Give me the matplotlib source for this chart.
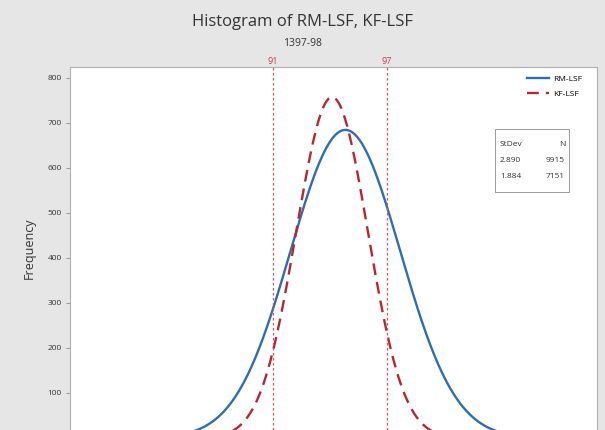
import numpy as np
import matplotlib
matplotlib.use("Agg")
import matplotlib.pyplot as plt
from matplotlib.lines import Line2D

plt.rcParams["font.family"] = ["Open Sans", "DejaVu Sans"]

series = ["RM-LSF", "KF-LSF"]
means = [94.8, 94.1]
stdevs = [2.890, 1.884]
counts = [9915, 7151]
bin_width = 0.5
ref_lines = [91, 97]
yticks = [100, 200, 300, 400, 500, 600, 700, 800]

colors = ["#2f6db3", "#b5282e"]
styles = ["-", (0, (5, 3))]

W, H = 605, 430
fig = plt.figure(figsize=(W / 100, H / 100), dpi=100)
fig.patch.set_facecolor("#e6e6e6")

left, right, top, bottom = 70, 597, 67, 430
ax = fig.add_axes([left / W, 1 - bottom / H, (right - left) / W, (bottom - top) / H])
ax.set_facecolor("white")

x = np.linspace(78, 110, 800)
for m, s, n, c, ls in zip(means, stdevs, counts, colors, styles):
    y = n * bin_width / (s * np.sqrt(2 * np.pi)) * np.exp(-0.5 * ((x - m) / s) ** 2)
    ax.plot(x, y, color=c, lw=1.7, linestyle=ls)

for r in ref_lines:
    ax.axvline(r, color="#e5505a", lw=0.9, linestyle=(0, (2, 2)))
    ax.text(r, 1.004, str(r), transform=ax.get_xaxis_transform(), ha="center",
            va="bottom", fontsize=6.5, color="#c04048")

ax.set_xlim(80.3, 108.05)
ax.set_ylim(17.8, 824)
ax.set_yticks(yticks)
ax.set_yticklabels([str(t) for t in yticks], fontsize=6, color="#333333")
ax.tick_params(axis="y", length=3, width=0.6, color="#888888", pad=3)
ax.set_xticks([])
for sp in ["left", "top", "right"]:
    ax.spines[sp].set_color("#b0b0b0")
    ax.spines[sp].set_linewidth(0.8)
ax.spines["bottom"].set_visible(False)

ax.set_ylabel("Frequency", fontsize=9, color="#333333", labelpad=8)

fig.text(0.5, 1 - 22 / H, "Histogram of RM-LSF, KF-LSF", ha="center", va="center",
         fontsize=12, color="#333333")
fig.text(0.5, 1 - 43 / H, "1397-98", ha="center", va="center", fontsize=7.5, color="#333333")

handles = [Line2D([], [], color=c, lw=1.7, linestyle=ls) for c, ls in zip(colors, styles)]
leg = ax.legend(handles, series, loc="upper right", bbox_to_anchor=(1 - 12 / (right - left), 1 - 5 / (bottom - top)),
                frameon=False, fontsize=6, handlelength=2.6, handletextpad=0.5, labelspacing=0.8,
                borderaxespad=0)

# Stats table
bx0, bx1, by0, by1 = 495, 569, 129, 192
fig.patches.append(plt.Rectangle((bx0 / W, 1 - by1 / H), (bx1 - bx0) / W, (by1 - by0) / H,
                                 transform=fig.transFigure, fill=True, facecolor="white",
                                 edgecolor="#999999", lw=0.7))
fig.text(500 / W, 1 - 145 / H, "StDev", fontsize=6, va="center", ha="left", color="#333333")
fig.text(565 / W, 1 - 145 / H, "N", fontsize=6, va="center", ha="right", color="#333333")
for i, (s, n) in enumerate(zip(stdevs, counts)):
    yy = 1 - (161 + 15 * i) / H
    fig.text(500 / W, yy, f"{s:.3f}", fontsize=6, va="center", ha="left", color="#333333")
    fig.text(565 / W, yy, str(n), fontsize=6, va="center", ha="right", color="#333333")

fig.savefig("out.png", dpi=100, facecolor=fig.get_facecolor())
